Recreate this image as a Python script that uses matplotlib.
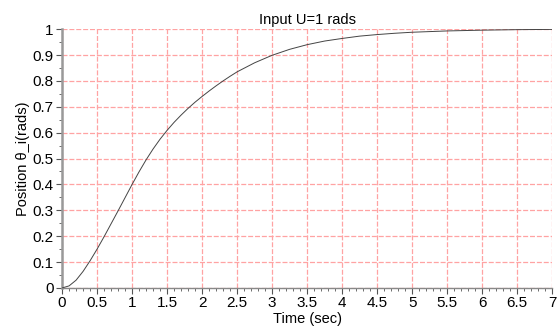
import matplotlib
matplotlib.use('Agg')
import matplotlib.pyplot as plt
from matplotlib.ticker import MultipleLocator

# values
t = [0.0, 0.1, 0.2, 0.3, 0.4, 0.5, 0.6, 0.7, 0.8, 0.9, 1.0, 1.1, 1.2, 1.3, 1.4,
     1.5, 1.6, 1.7, 1.8, 1.9, 2.0, 2.1, 2.2, 2.3, 2.4, 2.5, 2.75, 3.0, 3.25,
     3.5, 3.75, 4.0, 4.25, 4.5, 4.75, 5.0, 5.5, 6.0, 6.5, 7.0]
theta = [0.0, 0.008, 0.03, 0.064, 0.105, 0.15, 0.198, 0.248, 0.298, 0.349,
         0.40, 0.449, 0.495, 0.537, 0.575, 0.609, 0.640, 0.668, 0.694, 0.718,
         0.740, 0.761, 0.781, 0.800, 0.818, 0.835, 0.870, 0.899, 0.922, 0.940,
         0.954, 0.964, 0.973, 0.979, 0.984, 0.988, 0.993, 0.996, 0.998, 0.999]

plt.rcParams['font.family'] = ['Liberation Sans', 'DejaVu Sans']

fig = plt.figure(figsize=(5.59, 3.31), dpi=100)
ax = fig.add_axes([0.111, 0.130, 0.877, 0.782])

ax.plot(t, theta, color='#444444', linewidth=0.7, zorder=3)

ax.set_xlim(0, 7)
ax.set_ylim(0, 1)
ax.xaxis.set_major_locator(MultipleLocator(0.5))
ax.xaxis.set_minor_locator(MultipleLocator(0.1))
ax.yaxis.set_major_locator(MultipleLocator(0.1))
ax.yaxis.set_minor_locator(MultipleLocator(0.05))
ax.xaxis.set_major_formatter(lambda v, p: f'{v:g}')
ax.yaxis.set_major_formatter(lambda v, p: f'{v:g}')

ax.grid(True, which='major', color='#ffa3a3', linestyle=(0, (4, 1.5)), linewidth=0.9)

for s in ['top', 'right']:
    ax.spines[s].set_visible(False)
ax.spines['left'].set_color('#999999')
ax.spines['left'].set_linewidth(1.8)
ax.spines['bottom'].set_color('#888888')
ax.spines['bottom'].set_linewidth(1.0)

ax.tick_params(which='major', direction='out', length=4, color='#555555',
               labelsize=11, pad=2)
ax.tick_params(which='minor', direction='out', length=2, color='#555555')

ax.set_title('Input U=1 rads', fontsize=10.5, pad=4)
ax.set_xlabel('Time (sec)', fontsize=10.5, labelpad=1)
ax.set_ylabel('Position θ_i(rads)', fontsize=10.5, labelpad=2)

plt.savefig('out.png', dpi=100)
